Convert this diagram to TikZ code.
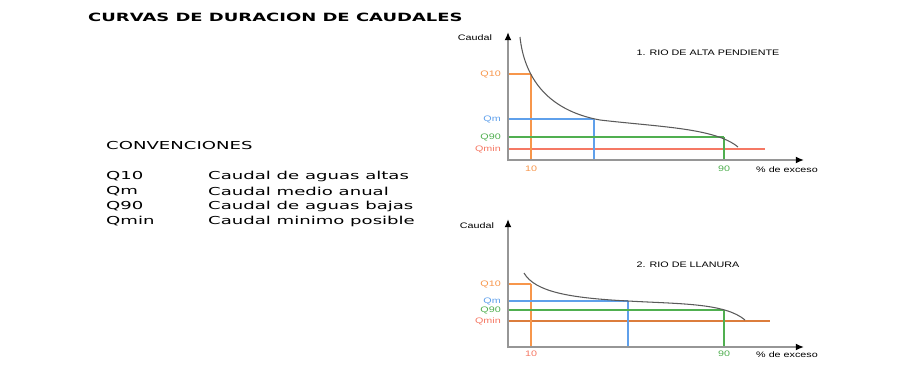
\documentclass[tikz,border=0pt]{standalone}
\usepackage{fontspec}
\usepackage{xcolor}
\usetikzlibrary{arrows.meta}
\newfontfamily\titlefont{DejaVu Sans Bold}[FakeStretch=1.58]
\newfontfamily\convfont{DejaVu Sans}[FakeStretch=1.65]
\newfontfamily\plotfont{Liberation Sans}[FakeStretch=1.35]

\definecolor{qdiez}{RGB}{247,150,75}
\definecolor{qmedio}{RGB}{95,160,235}
\definecolor{qnoventa}{RGB}{80,175,80}
\definecolor{qminimo}{RGB}{245,120,100}
\definecolor{qminllano}{RGB}{220,125,60}
\definecolor{ejegris}{RGB}{150,150,150}
\definecolor{curvagris}{RGB}{90,90,90}

\begin{document}
\begin{tikzpicture}[x=0.03cm, y=-0.03cm,
    eje/.style={ejegris, line width=1.6pt, -{Latex[black, length=7pt, width=6pt]}},
    curva/.style={curvagris, line width=0.9pt},
    nivel/.style={line width=0.9pt},
    caida/.style={line width=1.3pt},
    rotulo/.style={font=\plotfont\fontsize{6.8}{8}\selectfont, inner sep=0pt},
    conv/.style={font=\convfont\fontsize{9.35}{11}\selectfont, inner sep=0pt, anchor=west}]
    \useasboundingbox (0,0) rectangle (898,365);

    \node[font=\titlefont\fontsize{9.7}{11}\selectfont, inner sep=0pt, anchor=west] (titulo) at (88,17) {CURVAS DE DURACION DE CAUDALES};

    % convenciones
    \node[conv] (conv) at (106,146) {CONVENCIONES};
    \node[conv] (c1) at (106,176) {Q10};
    \node[conv] (c2) at (106,191) {Qm};
    \node[conv] (c3) at (106,206) {Q90};
    \node[conv] (c4) at (106,221) {Qmin};
    \node[conv] (d1) at (208,176) {Caudal de aguas altas};
    \node[conv] (d2) at (208,191) {Caudal medio anual};
    \node[conv] (d3) at (208,206) {Caudal de aguas bajas};
    \node[conv] (d4) at (208,221) {Caudal minimo posible};

    % 1. rio de alta pendiente
    \coordinate (oA) at (508,160);
    \coordinate (yA) at (508,32);
    \coordinate (xA) at (804,160);
    \coordinate (a1) at (531,74);
    \coordinate (a2) at (594,119);
    \coordinate (a3) at (724,137);

    \draw[qminimo, nivel] (508,149) -- (765,149);
    \draw[qdiez, nivel] (508,74) -- (a1);
    \draw[qdiez, caida] (a1) -- (531,160);
    \draw[qmedio, nivel] (508,119) -- (a2);
    \draw[qmedio, caida] (a2) -- (594,160);
    \draw[qnoventa, nivel] (508,137) -- (a3);
    \draw[qnoventa, caida] (a3) -- (724,160);
    \draw[curva] (520,37) .. controls (524,75) and (545,110) .. (600,120)
        .. controls (660,127) and (715,128) .. (738,147);
    \draw[eje] (508,161) -- (yA);
    \draw[eje] (oA) -- (xA);

    \node[rotulo] (cauA) at (475,38) {Caudal};
    \node[rotulo, qdiez, anchor=east] (lq10A) at (501,74) {Q10};
    \node[rotulo, qmedio, anchor=east] (lqmA) at (501,119) {Qm};
    \node[rotulo, qnoventa, anchor=east] (lq90A) at (501,137) {Q90};
    \node[rotulo, qminimo, anchor=east] (lqminA) at (501,149) {Qmin};
    \node[rotulo, qdiez] (diezA) at (531,169) {10};
    \node[rotulo, qnoventa] (noventaA) at (724,169) {90};
    \node[rotulo] (excA) at (787,170) {\% de exceso};
    \node[rotulo] (titA) at (708,53) {1. RIO DE ALTA PENDIENTE};

    % 2. rio de llanura
    \coordinate (oB) at (508,347);
    \coordinate (yB) at (508,219);
    \coordinate (xB) at (804,347);
    \coordinate (b1) at (531,284);
    \coordinate (b2) at (628,301);
    \coordinate (b3) at (724,310);

    \draw[qminllano, nivel] (508,321) -- (770,321);
    \draw[qdiez, nivel] (508,284) -- (b1);
    \draw[qdiez, caida] (b1) -- (531,347);
    \draw[qmedio, nivel] (508,301) -- (b2);
    \draw[qmedio, caida] (b2) -- (628,347);
    \draw[qnoventa, nivel] (508,310) -- (b3);
    \draw[qnoventa, caida] (b3) -- (724,347);
    \draw[curva] (524,273) .. controls (535,292) and (570,298) .. (628,301)
        .. controls (680,304) and (725,303) .. (745,320);
    \draw[eje] (508,348) -- (yB);
    \draw[eje] (oB) -- (xB);

    \node[rotulo] (cauB) at (477,226) {Caudal};
    \node[rotulo, qdiez, anchor=east] (lq10B) at (501,284) {Q10};
    \node[rotulo, qmedio, anchor=east] (lqmB) at (501,301) {Qm};
    \node[rotulo, qnoventa, anchor=east] (lq90B) at (501,310) {Q90};
    \node[rotulo, qminimo, anchor=east] (lqminB) at (501,321) {Qmin};
    \node[rotulo, qminimo] (diezB) at (531,354) {10};
    \node[rotulo, qnoventa] (noventaB) at (724,354) {90};
    \node[rotulo] (excB) at (787,355) {\% de exceso};
    \node[rotulo] (titB) at (688,265) {2. RIO DE LLANURA};

\end{tikzpicture}
\end{document}
